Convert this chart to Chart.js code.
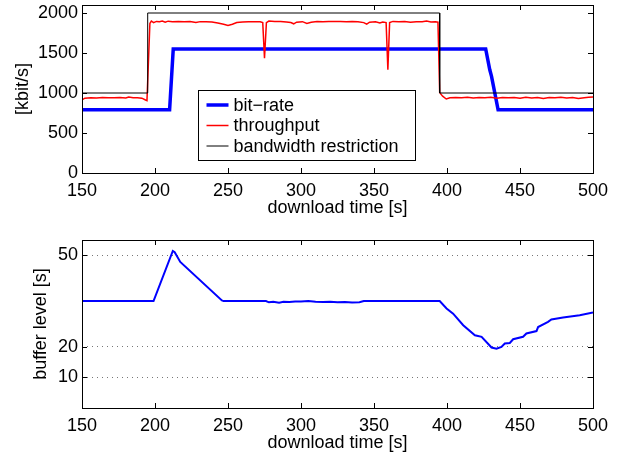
<!DOCTYPE html>
<html>
<head>
<meta charset="utf-8">
<script src="https://cdn.jsdelivr.net/npm/chart.js@4.4.0/dist/chart.umd.min.js"></script>
<style>
  html, body { margin: 0; padding: 0; background: #fff; }
  #wrap { position: relative; width: 624px; height: 455px; }
  #rateBox { position: absolute; left: 0; top: 0; width: 624px; height: 222px; }
  #bufBox { position: absolute; left: 0; top: 222px; width: 624px; height: 233px; }
</style>
</head>
<body>
<div id="wrap">
  <div id="rateBox"><canvas id="rateChart"></canvas></div>
  <div id="bufBox"><canvas id="bufChart"></canvas></div>
</div>
<script>
// ---- data ----
var xTicks = [150, 200, 250, 300, 350, 400, 450, 500];
var rateTicks = [0, 500, 1000, 1500, 2000];
var bufTicks = [10, 20, 50];

// bandwidth restriction [kbit/s]
var bwTime = [150, 195, 195, 395, 395, 500];
var bwRate = [1000, 1000, 2000, 2000, 1000, 1000];

// selected bit-rate [kbit/s]
var bitTime = [150, 210, 212.5, 426.5, 429.3, 430.5, 433.4, 435, 500];
var bitRate = [790, 790, 1550, 1550, 1290, 1208, 940, 790, 790];

// measured throughput [kbit/s]
var tputTime = [150, 152, 156, 160, 164, 168, 172, 176, 180, 182, 185, 188, 191, 193.5, 194.5, 196.5,
  197.5, 199, 201, 203, 205, 207, 209, 212, 216, 220, 224, 228, 231, 235, 239, 243, 247, 250, 253,
  256, 260, 264, 268, 272, 273.8, 275, 276.3, 278, 282, 286, 290, 293, 295, 297, 301, 304, 307,
  311, 315, 319, 323, 327, 331, 335, 339, 343, 345, 347, 351, 354, 356, 358.3, 359.5, 360.7, 363,
  367, 371, 375, 379, 383, 386, 389, 392, 393.8, 395, 397, 399.5, 402, 406, 410, 414, 418, 422,
  426, 430, 434, 438, 442, 446, 450, 454, 458, 462, 466, 470, 474, 478, 482, 486, 490, 494, 497, 500];
var tput = [915, 935, 940, 938, 945, 940, 942, 945, 938, 950, 940, 942, 935, 912, 905, 1870,
  1900, 1880, 1895, 1890, 1900, 1885, 1898, 1890, 1893, 1890, 1895, 1880, 1892, 1890, 1888, 1875, 1860, 1845, 1860,
  1880, 1888, 1892, 1890, 1890, 1880, 1435, 1880, 1900, 1893, 1895, 1888, 1880, 1865, 1885, 1892, 1870, 1885,
  1895, 1892, 1895, 1893, 1895, 1890, 1893, 1890, 1880, 1860, 1885, 1890, 1875, 1888, 1880, 1290, 1880, 1895,
  1892, 1895, 1885, 1892, 1890, 1900, 1888, 1890, 1885, 1005, 960, 925, 940, 945, 940, 948, 938, 945,
  940, 948, 935, 945, 940, 945, 935, 948, 938, 945, 932, 945, 940, 948, 938, 945, 930, 942, 948, 950];

// buffer level [s]
var bufTime = [150, 199, 212.2, 213.5, 217.3, 245.8, 247, 276, 278, 281, 285, 288, 292, 296, 300, 305,
  310, 315, 320, 325, 330, 335, 340, 343, 395, 399.7, 404.2, 411.1, 419.1, 423.7, 430.5, 433.9, 437.3,
  439.6, 443, 445.3, 452.1, 454.4, 461.3, 462.4, 469.2, 471.5, 479.5, 490.9, 500];
var bufLevel = [35, 35, 51.4, 51, 47.8, 35.2, 35, 35, 34.6, 34.8, 34.5, 34.8, 34.7, 34.9, 34.9, 35,
  34.8, 34.7, 34.8, 34.6, 34.7, 34.5, 34.6, 35, 35, 32.6, 30.9, 27.1, 23.8, 23.3, 19.8, 19.4, 20,
  21.1, 21.3, 22.5, 23.3, 24.4, 25.2, 26.5, 28.2, 29, 29.6, 30.4, 31.3];

function pts(xs, ys) {
  return xs.map(function(x, i) { return { x: x, y: ys[i] }; });
}

var FONT = { family: "'Liberation Sans', Arial, Helvetica, sans-serif", size: 18 };
Chart.defaults.font.family = FONT.family;
Chart.defaults.color = '#000';

// matlab style box with inward ticks on every side
var boxTicks = {
  id: 'boxTicks',
  afterDraw: function(chart) {
    var ctx = chart.ctx, a = chart.chartArea;
    var sx = chart.scales.x, sy = chart.scales.y;
    var len = 5;
    ctx.save();
    ctx.strokeStyle = '#000';
    ctx.lineWidth = 1;
    ctx.beginPath();
    sx.ticks.forEach(function(t) {
      var px = Math.round(sx.getPixelForValue(t.value)) + 0.5;
      ctx.moveTo(px, a.bottom); ctx.lineTo(px, a.bottom - len);
      ctx.moveTo(px, a.top); ctx.lineTo(px, a.top + len);
    });
    sy.ticks.forEach(function(t) {
      var py = Math.round(sy.getPixelForValue(t.value)) + 0.5;
      ctx.moveTo(a.left, py); ctx.lineTo(a.left + len, py);
      ctx.moveTo(a.right, py); ctx.lineTo(a.right - len, py);
    });
    ctx.stroke();
    ctx.strokeRect(Math.round(a.left) + 0.5, Math.round(a.top) + 0.5,
      Math.round(a.right - a.left), Math.round(a.bottom - a.top));
    ctx.restore();
  }
};

// legend drawn inside the plot area
var boxLegend = {
  id: 'boxLegend',
  afterDraw: function(chart) {
    var ctx = chart.ctx, a = chart.chartArea;
    var x0 = a.left + 115.5, y0 = a.top + 85, w = 217, h = 70;
    ctx.save();
    ctx.fillStyle = '#fff';
    ctx.fillRect(x0, y0, w, h);
    ctx.strokeStyle = '#000';
    ctx.lineWidth = 1;
    ctx.strokeRect(Math.round(x0) + 0.5, Math.round(y0) + 0.5, w, h);
    ctx.font = FONT.size + 'px ' + FONT.family;
    ctx.textBaseline = 'middle';
    ctx.fillStyle = '#000';
    chart.data.datasets.slice().reverse().forEach(function(ds, i) {
      var yy = y0 + 15 + i * 20.5;
      ctx.beginPath();
      ctx.strokeStyle = ds.borderColor;
      ctx.lineWidth = ds.borderWidth;
      ctx.moveTo(x0 + 9, yy); ctx.lineTo(x0 + 31, yy);
      ctx.stroke();
      ctx.fillText(ds.label, x0 + 36, yy + 1);
    });
    ctx.restore();
  }
};

function plain(v) { return String(v); }

function xScale(height, titleGap) {
  return {
    type: 'linear', min: 150, max: 500,
    afterBuildTicks: function(s) { s.ticks = xTicks.map(function(v) { return { value: v }; }); },
    afterFit: function(s) { s.height = height; },
    grid: { display: false, drawTicks: false },
    border: { display: false },
    ticks: { font: FONT, padding: 7, maxRotation: 0, callback: plain },
    title: { display: true, text: 'download time [s]', font: FONT, padding: { top: 0, bottom: titleGap } }
  };
}

function yFit(s) {
  s.width = 82;
  s.paddingTop = 0;
  s.paddingBottom = 0;
}

var rateChart = new Chart(document.getElementById('rateChart'), {
  type: 'line',
  data: {
    datasets: [
      { label: 'bandwidth restriction', data: pts(bwTime, bwRate), borderColor: '#000', borderWidth: 1 },
      { label: 'throughput', data: pts(tputTime, tput), borderColor: '#ff0000', borderWidth: 1.5 },
      { label: 'bit\u2212rate', data: pts(bitTime, bitRate), borderColor: '#0000ff', borderWidth: 3.5 }
    ]
  },
  options: {
    responsive: true, maintainAspectRatio: false, animation: false,
    datasets: { line: { pointRadius: 0, tension: 0 } },
    layout: { padding: { top: 5, right: 31, left: 0, bottom: 0 } },
    plugins: { legend: { display: false }, tooltip: { enabled: false } },
    scales: {
      x: xScale(49, 3),
      y: {
        min: 0, max: 2100,
        afterBuildTicks: function(s) { s.ticks = rateTicks.map(function(v) { return { value: v }; }); },
        afterFit: yFit,
        grid: { display: false, drawTicks: false },
        border: { display: false },
        ticks: { font: FONT, padding: 4, callback: plain },
        title: { display: true, text: '[kbit/s]', font: FONT, padding: { top: 12, bottom: 0 } }
      }
    }
  },
  plugins: [boxTicks, boxLegend]
});

var bufChart = new Chart(document.getElementById('bufChart'), {
  type: 'line',
  data: {
    datasets: [
      { label: 'buffer level', data: pts(bufTime, bufLevel), borderColor: '#0000ff', borderWidth: 2 }
    ]
  },
  options: {
    responsive: true, maintainAspectRatio: false, animation: false,
    datasets: { line: { pointRadius: 0, tension: 0 } },
    layout: { padding: { top: 18, right: 31, left: 0, bottom: 0 } },
    plugins: { legend: { display: false }, tooltip: { enabled: false } },
    scales: {
      x: xScale(47, 1),
      y: {
        min: 0, max: 55,
        afterBuildTicks: function(s) { s.ticks = bufTicks.map(function(v) { return { value: v }; }); },
        afterFit: yFit,
        grid: { color: '#777', lineWidth: 1, drawTicks: false },
        border: { display: false, dash: [1, 4] },
        ticks: { font: FONT, padding: 4, callback: plain },
        title: { display: true, text: 'buffer level [s]', font: FONT, padding: { top: 30, bottom: 0 } }
      }
    }
  },
  plugins: [boxTicks]
});
</script>
</body>
</html>
